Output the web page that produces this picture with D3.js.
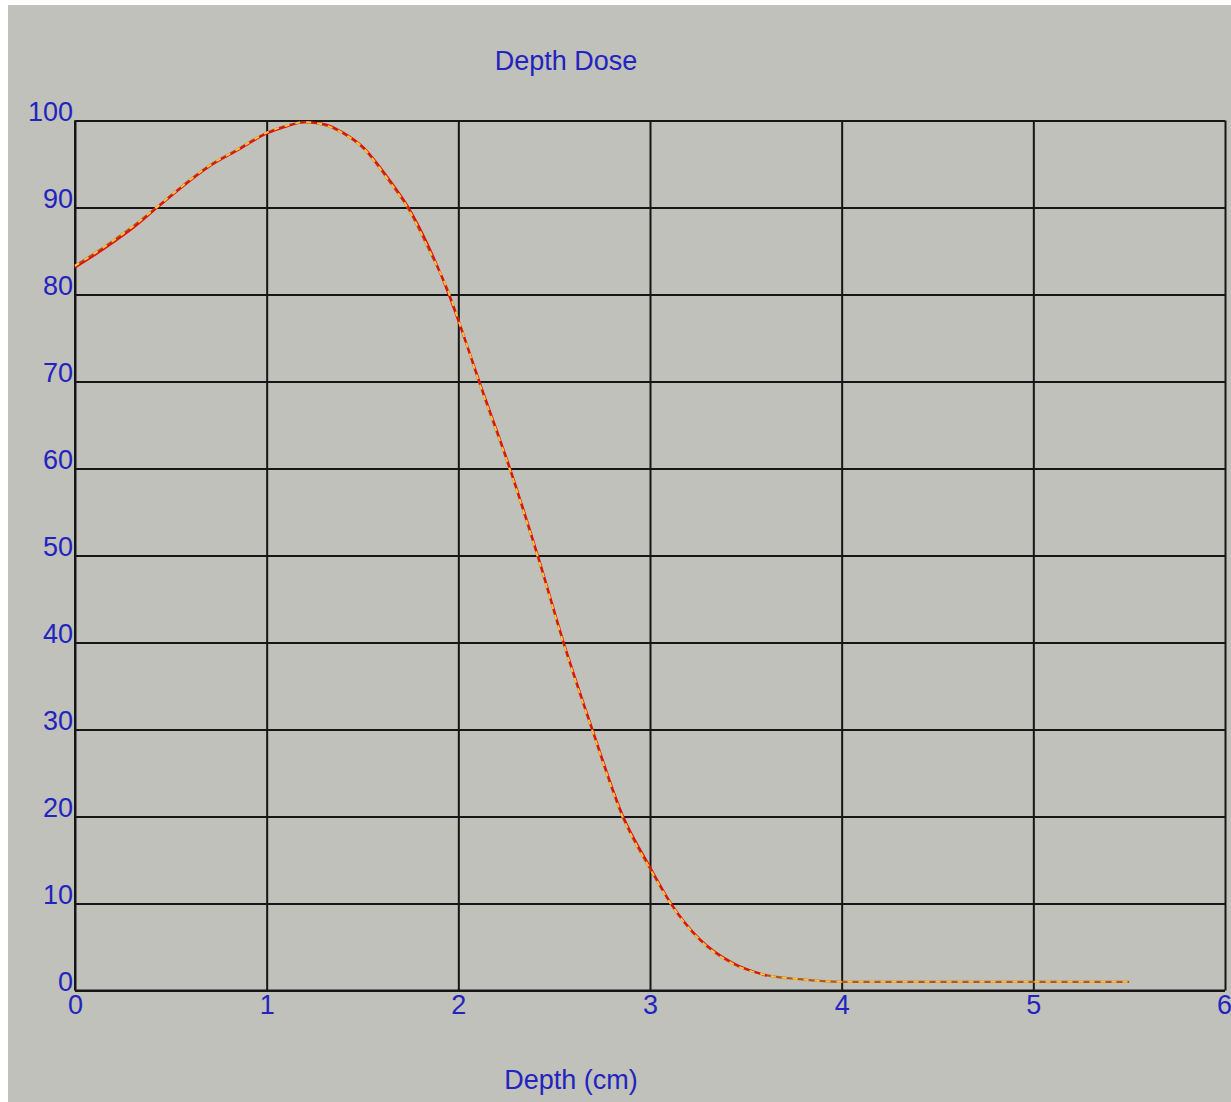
<!DOCTYPE html>
<html>
<head>
<meta charset="utf-8">
<script src="https://cdn.jsdelivr.net/npm/d3@7"></script>
<style>
  html, body { margin: 0; padding: 0; background: #ffffff; }
  svg { display: block; }
  text { font-family: "Liberation Sans", Arial, sans-serif; }
</style>
</head>
<body>
<svg id="chart" width="1231" height="1102"></svg>
<script>
// Depth dose curve: measured (solid red) and calculated (dashed) profiles
const measuredDepth = [0, 0.1, 0.2, 0.3, 0.43, 0.55, 0.7, 0.85, 1.0, 1.1, 1.2, 1.3, 1.4, 1.5, 1.64, 1.74, 1.85, 1.95, 2.0, 2.11, 2.27, 2.415, 2.55, 2.7, 2.86, 3.0, 3.11, 3.26, 3.43, 3.61];
const measuredDose  = [83.1, 84.5, 86.0, 87.6, 90.0, 92.2, 94.7, 96.6, 98.5, 99.3, 99.8, 99.6, 98.6, 97.0, 93.2, 90.0, 85.3, 80.0, 77.0, 70.0, 60.0, 50.0, 40.0, 30.0, 20.0, 14.2, 10.0, 5.9, 3.2, 1.7];

const calcDepth = [0, 0.1, 0.2, 0.3, 0.43, 0.55, 0.7, 0.85, 1.0, 1.1, 1.2, 1.3, 1.4, 1.5, 1.64, 1.74, 1.85, 1.95, 2.0, 2.11, 2.27, 2.415, 2.55, 2.7, 2.86, 3.0, 3.11, 3.26, 3.43, 3.6, 3.78, 4.0, 4.5, 5.0, 5.5];
const calcDose  = [83.3, 84.7, 86.2, 87.8, 90.1, 92.3, 94.8, 96.7, 98.6, 99.4, 99.8, 99.5, 98.5, 96.9, 93.0, 89.8, 85.0, 80.2, 77.1, 69.8, 59.8, 49.8, 39.8, 29.8, 19.8, 14.0, 9.9, 5.8, 3.1, 1.8, 1.3, 1.0, 1.0, 1.0, 1.0];

const xTicks = [0, 1, 2, 3, 4, 5, 6];
const yTicks = [0, 10, 20, 30, 40, 50, 60, 70, 80, 90, 100];

const titleText = "Depth Dose";
const xAxisTitle = "Depth (cm)";

const svg = d3.select("#chart");
const textBlue = "#2323c0";
const gridColor = "#161616";

// grey panel with a thin white border on the top and left
svg.append("rect").attr("x", 8).attr("y", 5).attr("width", 1231 - 8).attr("height", 1102 - 5).attr("fill", "#bfc1ba");

const x = d3.scaleLinear().domain([0, 6]).range([75, 1225]);
const y = d3.scaleLinear().domain([0, 100]).range([990.5, 120.5]);

// vertical grid + x labels
const xAxis = d3.axisBottom(x).tickValues(xTicks).tickFormat(d3.format("d")).tickSize(-(y(0) - y(100))).tickSizeOuter(0);
const gx = svg.append("g").attr("transform", `translate(0,${y(0)})`).call(xAxis);
gx.select(".domain").remove();
gx.selectAll(".tick line").attr("stroke", gridColor).attr("stroke-width", 2);
gx.selectAll(".tick text")
  .attr("y", 23).attr("dy", 0)
  .attr("fill", textBlue).attr("font-size", 27).attr("text-anchor", "middle");
gx.selectAll(".tick").filter(d => d === 6).select("text").attr("dx", -1);

// horizontal grid + y labels
const yAxis = d3.axisLeft(y).tickValues(yTicks).tickFormat(d3.format("d")).tickSize(-(x(6) - x(0))).tickSizeOuter(0);
const gy = svg.append("g").attr("transform", `translate(${x(0)},0)`).call(yAxis);
gy.select(".domain").remove();
gy.selectAll(".tick line").attr("stroke", gridColor).attr("stroke-width", 2);
gy.selectAll(".tick text")
  .attr("x", -2).attr("dy", 0).attr("y", 0)
  .attr("fill", textBlue).attr("font-size", 27).attr("text-anchor", "end");

// left and bottom frame lines
svg.append("line").attr("x1", x(0)).attr("x2", x(0)).attr("y1", y(100)).attr("y2", y(0)).attr("stroke", gridColor).attr("stroke-width", 2);
svg.append("line").attr("x1", x(0)).attr("x2", x(6)).attr("y1", y(0)).attr("y2", y(0)).attr("stroke", gridColor).attr("stroke-width", 2);

const line = d3.line().x(d => x(d[0])).y(d => y(d[1])).curve(d3.curveMonotoneX);
const measured = measuredDepth.map((d, i) => [d, measuredDose[i]]);
const calculated = calcDepth.map((d, i) => [d, calcDose[i]]);

// calculated profile: brown base with yellow dashes on top
svg.append("path").datum(calculated).attr("d", line)
  .attr("fill", "none").attr("stroke", "#b4561e").attr("stroke-width", 2.2);
// measured profile: solid red
svg.append("path").datum(measured).attr("d", line)
  .attr("fill", "none").attr("stroke", "#e01010").attr("stroke-width", 2.2);
svg.append("path").datum(calculated).attr("d", line)
  .attr("fill", "none").attr("stroke", "#f6c83a").attr("stroke-width", 2)
  .attr("stroke-dasharray", "5,6");

// titles
svg.append("text").attr("x", 566).attr("y", 70).attr("text-anchor", "middle")
  .attr("fill", textBlue).attr("font-size", 27).text(titleText);
svg.append("text").attr("x", 571).attr("y", 1089).attr("text-anchor", "middle")
  .attr("fill", textBlue).attr("font-size", 27).text(xAxisTitle);
</script>
</body>
</html>
